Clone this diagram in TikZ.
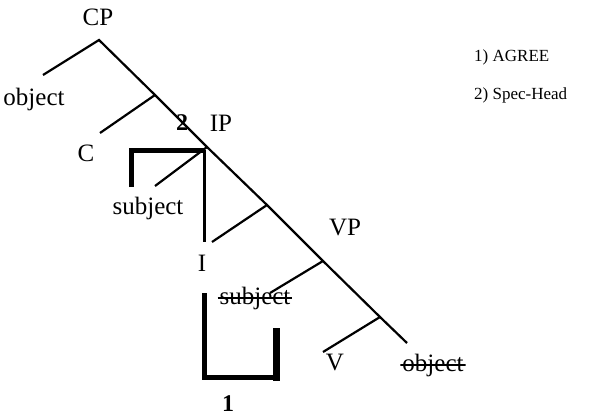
\documentclass[tikz,border=0pt]{standalone}
\usepackage{fontspec}
\setmainfont{Liberation Serif}
\begin{document}
\begin{tikzpicture}[x=1pt,y=-1pt,
  branch/.style={line width=2.2pt},
  lbl/.style={inner sep=0pt, font=\fontsize{25}{29}\selectfont},
  num/.style={inner sep=0pt, font=\fontsize{24}{28}\selectfont\bfseries},
  key/.style={inner sep=0pt, anchor=west, font=\fontsize{17}{20}\selectfont},
  strike/.style={inner xsep=2pt, inner ysep=0pt,
    path picture={\draw[line width=1.3pt] (path picture bounding box.west) -- (path picture bounding box.east);}},
  bracket/.style={line width=5pt},
  link/.style={line width=3pt},
]
\useasboundingbox (0,0) rectangle (593,417);

% spine of the tree
\coordinate (top) at (99,40);
\coordinate (j1) at (155,95);
\coordinate (j2) at (207,147);
\coordinate (j3) at (267,205);
\coordinate (j4) at (323,261);
\coordinate (j5) at (380,317);
\coordinate (bot) at (407,343);

% ends of the left branches
\coordinate (b0) at (43,75);
\coordinate (b1) at (100,133);
\coordinate (b2) at (155,186);
\coordinate (b3) at (212,242);
\coordinate (b4) at (270,293);
\coordinate (b5) at (323,352);

\draw[branch] (bot) -- (j5) -- (j4) -- (j3) -- (j2) -- (j1) -- (top) -- (b0);
\draw[branch] (j1) -- (b1);
\draw[branch] (j2) -- (b2);
\draw[branch] (j3) -- (b3);
\draw[branch] (j4) -- (b4);
\draw[branch] (j5) -- (b5);

% labels
\node[lbl] (cp) at (98,17) {CP};
\node[lbl] (objL) at (34,99) {object};
\node[lbl] (c) at (86,153) {C};
\node[num] (two) at (182,123) {2};
\node[lbl] (ip) at (221,123) {IP};
\node[lbl] (subj) at (148,208) {subject};
\node[lbl] (i) at (202,263) {I};
\node[lbl] (vp) at (345,228) {VP};
\node[lbl,strike] (subjT) at (255,298) {subject};
\node[lbl] (v) at (335,362) {V};
\node[lbl,strike] (objT) at (433,365) {object};
\node[num] (one) at (228,404) {1};

% legend
\node[key] (k1) at (474,57) {1) AGREE};
\node[key] (k2) at (474,95) {2) Spec-Head};

% Spec-Head bracket and the line from IP down to I
\coordinate (s1) at (131,187);
\coordinate (s2) at (131,150);
\coordinate (s3) at (204,150);
\coordinate (s4) at (204,242);
\draw[bracket] (s1) -- (s2) -- (s3);
\draw[link] (s3) -- (s4);

% AGREE bracket
\coordinate (a1) at (204,293);
\coordinate (a2) at (204,377);
\coordinate (a3) at (273,377);
\coordinate (a4) at (276,380.5);
\coordinate (a5) at (276,328);
\draw[bracket] (a1) -- (a2) -- (a3);
\draw[line width=7pt] (a4) -- (a5);
\end{tikzpicture}
\end{document}
